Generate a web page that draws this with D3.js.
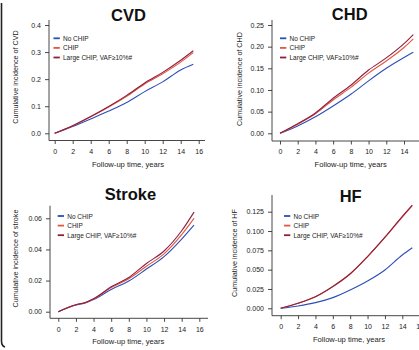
<!DOCTYPE html>
<html><head><meta charset="utf-8">
<script src="https://cdn.jsdelivr.net/npm/d3@7"></script>
<style>html,body{margin:0;padding:0;background:#fff;overflow:hidden}svg{display:block}</style>
</head><body>
<svg id="c" width="419" height="350"></svg>
<script>
// ---- data ----
const seriesNames = ["No CHIP", "CHIP", "Large CHIP, VAF\u226510%#"];
const cvdX = [0, 2, 4, 6, 8, 10, 12, 14, 15.4];
const cvdNo = [0, 0.025, 0.053, 0.082, 0.114, 0.154, 0.19, 0.234, 0.255];
const cvdChip = [0, 0.028, 0.061, 0.097, 0.137, 0.182, 0.22, 0.263, 0.298];
const cvdLarge = [0, 0.028, 0.062, 0.099, 0.140, 0.186, 0.225, 0.270, 0.305];
const chdX = [0, 2, 4, 6, 8, 10, 12, 14, 15.05];
const chdNo = [0, 0.017, 0.038, 0.063, 0.090, 0.121, 0.150, 0.175, 0.187];
const chdChip = [0, 0.021, 0.045, 0.077, 0.106, 0.139, 0.167, 0.198, 0.218];
const chdLarge = [0, 0.022, 0.047, 0.081, 0.111, 0.146, 0.174, 0.207, 0.228];
const strokeX = [0, 2, 3, 4, 6, 8, 10, 12, 14, 15.4];
const strokeNo = [0, 0.0043, 0.0055, 0.0078, 0.0143, 0.0197, 0.0274, 0.0354, 0.0467, 0.0557];
const strokeChip = [0, 0.0045, 0.0058, 0.0082, 0.0155, 0.0212, 0.0292, 0.0372, 0.0495, 0.0600];
const strokeLarge = [0, 0.0045, 0.0058, 0.0083, 0.0160, 0.0220, 0.0310, 0.0390, 0.0520, 0.0640];
const hfX = [0, 2, 4, 6, 8, 10, 12, 14, 15.15];
const hfNo = [0, 0.003, 0.0073, 0.0138, 0.0237, 0.0353, 0.0496, 0.069, 0.0784];
const hfChip = [0, 0.0065, 0.015, 0.028, 0.0444, 0.0668, 0.0918, 0.118, 0.133];
const hfLarge = [0, 0.0065, 0.015, 0.0283, 0.0447, 0.067, 0.092, 0.119, 0.1336];
const xTicks16 = [0, 2, 4, 6, 8, 10, 12, 14, 16];
const xTicks14 = [0, 2, 4, 6, 8, 10, 12, 14];
const cvdYTicks = [0.0, 0.1, 0.2, 0.3, 0.4];
const chdYTicks = [0.00, 0.05, 0.10, 0.15, 0.20, 0.25];
const strokeYTicks = [0.00, 0.02, 0.04, 0.06];
const hfYTicks = [0.000, 0.025, 0.050, 0.075, 0.100, 0.125];

const colors = ["#2b4fb8", "#e2573f", "#8e1f3d"];
const svg = d3.select("#c");
const FONT = "Liberation Sans, Arial, sans-serif";

// left frame line
svg.append("path").attr("d", "M1.5,3 L1.5,341 Q1.5,346 5,347")
  .attr("fill", "none").attr("stroke", "#222").attr("stroke-width", 1.6);

const panels = [
  {title: "CVD", ylab: "Cumulative incidence of CVD", x: cvdX, ys: [cvdNo, cvdChip, cvdLarge],
   xr: [0, 16], xp: [54.7, 198.7], yd: [0, 0.4], yp: [133.3, 25], xt: xTicks16, yt: cvdYTicks, yf: ".1f",
   box: {l: 49, r: 205, t: 20, b: 140.5}, titleXY: [128.5, 20.7], ylabXY: [15.7, 77], xlabXY: [128, 167],
   legXY: [53.5, 38.3], tlY: 154.3},
  {title: "CHD", ylab: "Cumulative incidence of CHD", x: chdX, ys: [chdNo, chdChip, chdLarge],
   xr: [0, 14], xp: [280, 404], yd: [0, 0.25], yp: [133.3, 25], xt: xTicks14, yt: chdYTicks, yf: ".2f",
   box: {l: 272, r: 420, t: 20, b: 141}, titleXY: [349.7, 19.5], ylabXY: [239, 79], xlabXY: [350.7, 167],
   legXY: [280, 38.3], tlY: 154.3},
  {title: "Stroke", ylab: "Cumulative incidence of stroke", x: strokeX, ys: [strokeNo, strokeChip, strokeLarge],
   xr: [0, 16], xp: [58.3, 199.3], yd: [0, 0.06], yp: [311.7, 218.3], xt: xTicks16, yt: strokeYTicks, yf: ".2f",
   box: {l: 50, r: 208, t: 205.7, b: 318.3}, titleXY: [130.5, 199.5], ylabXY: [15.7, 258.5], xlabXY: [128.3, 343.5],
   legXY: [57.7, 216], tlY: 331.7},
  {title: "HF", ylab: "Cumulative incidence of HF", x: hfX, ys: [hfNo, hfChip, hfLarge],
   xr: [0, 14], xp: [280.7, 402.3], yd: [0, 0.125], yp: [308.3, 211.7], xt: xTicks16, yt: hfYTicks, yf: ".3f",
   box: {l: 272, r: 420, t: 195, b: 315.7}, titleXY: [350.7, 201.5], ylabXY: [234, 253], xlabXY: [349, 342],
   legXY: [284, 216], tlY: 329.3}
];

panels.forEach(p => {
  const xs = d3.scaleLinear().domain(p.xr).range(p.xp);
  const ys = d3.scaleLinear().domain(p.yd).range(p.yp);
  const g = svg.append("g");
  const b = p.box;
  // L frame
  g.append("path").attr("d", `M${b.l},${b.t} L${b.l},${b.b} L${b.r},${b.b}`)
    .attr("fill", "none").attr("stroke", "#333").attr("stroke-width", 0.9);
  // y ticks
  const yAxis = d3.axisLeft(ys).tickValues(p.yt).tickFormat(d3.format(p.yf)).tickSize(4).tickPadding(4);
  const ya = g.append("g").attr("transform", `translate(${b.l},0)`).call(yAxis);
  ya.select(".domain").remove();
  ya.selectAll("line").attr("stroke", "#333").attr("stroke-width", 0.9);
  ya.selectAll("text").attr("font-family", FONT).attr("font-size", 7).attr("fill", "#222");
  // x ticks
  const xAxis = d3.axisBottom(xs).tickValues(p.xt).tickFormat(d3.format("d")).tickSize(3.5).tickPadding(5);
  const xa = g.append("g").attr("transform", `translate(0,${b.b})`).call(xAxis);
  xa.select(".domain").remove();
  xa.selectAll("line").attr("stroke", "#333").attr("stroke-width", 0.9);
  xa.selectAll("text").attr("font-family", FONT).attr("font-size", 7).attr("fill", "#222");
  // lines
  const line = d3.line().x(d => xs(d[0])).y(d => ys(d[1])).curve(d3.curveMonotoneX);
  p.ys.forEach((vals, i) => {
    const pts = p.x.map((xv, j) => [xv, vals[j]]);
    g.append("path").attr("d", line(pts)).attr("fill", "none")
      .attr("stroke", colors[i]).attr("stroke-width", 1.1);
  });
  // title
  g.append("text").attr("x", p.titleXY[0]).attr("y", p.titleXY[1]).attr("text-anchor", "middle")
    .attr("font-family", FONT).attr("font-weight", "bold").attr("font-size", 16.5).attr("fill", "#111")
    .text(p.title);
  // y label
  g.append("text").attr("transform", `translate(${p.ylabXY[0]},${p.ylabXY[1]}) rotate(-90)`)
    .attr("text-anchor", "middle").attr("dominant-baseline", "central")
    .attr("font-family", FONT).attr("font-size", 7.2).attr("fill", "#222").text(p.ylab);
  // x label
  g.append("text").attr("x", p.xlabXY[0]).attr("y", p.xlabXY[1]).attr("text-anchor", "middle")
    .attr("font-family", FONT).attr("font-size", 7.6).attr("fill", "#222").text("Follow-up time, years");
  // legend
  seriesNames.forEach((n, i) => {
    const ly = p.legXY[1] + i * 9.6;
    g.append("line").attr("x1", p.legXY[0]).attr("x2", p.legXY[0] + 6.3)
      .attr("y1", ly).attr("y2", ly).attr("stroke", colors[i]).attr("stroke-width", 1.8);
    g.append("text").attr("x", p.legXY[0] + 9.5).attr("y", ly).attr("dominant-baseline", "central")
      .attr("font-family", FONT).attr("font-size", 6.5).attr("fill", "#222").text(n);
  });
});
</script>
</body></html>
